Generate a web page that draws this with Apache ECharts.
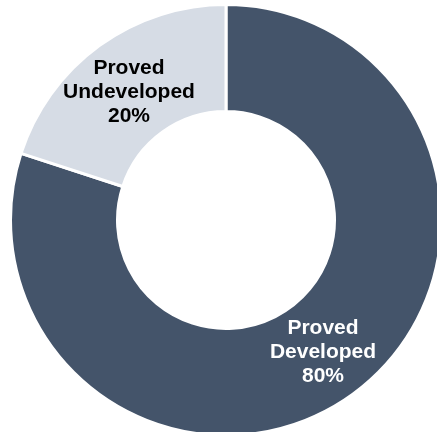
<!DOCTYPE html>
<html>
<head>
<meta charset="utf-8">
<style>
  html, body { margin: 0; padding: 0; background: #ffffff; }
  #chart { width: 437px; height: 432px; }
</style>
<script src="https://cdn.jsdelivr.net/npm/echarts@6/dist/echarts.min.js"></script>
</head>
<body>
<div id="chart"></div>
<script>
// Reserve categories and their shares (%)
const categories = ['Proved\nDeveloped', 'Proved\nUndeveloped'];
const shares = [80, 20];
const sliceColors = ['#44546A', '#D6DCE5'];
const labelColors = ['#ffffff', '#000000'];
const labelOffsets = [[0, -1], [0, 6]];

const chart = echarts.init(document.getElementById('chart'), null, { renderer: 'canvas' });

chart.setOption({
  animation: false,
  backgroundColor: '#ffffff',
  series: [{
    type: 'pie',
    center: [226, 220],
    radius: [108.5, 215.5],
    startAngle: 90,
    clockwise: true,
    avoidLabelOverlap: false,
    itemStyle: { borderColor: '#ffffff', borderWidth: 3 },
    label: {
      show: true,
      position: 'inside',
      formatter: p => p.name + '\n' + p.value + '%',
      fontFamily: '"Liberation Sans", Arial, sans-serif',
      fontWeight: 'bold',
      fontSize: 21,
      lineHeight: 24,
      align: 'center'
    },
    labelLine: { show: false },
    emphasis: { disabled: true },
    data: categories.map((name, i) => ({
      name: name,
      value: shares[i],
      itemStyle: { color: sliceColors[i] },
      label: { color: labelColors[i], offset: labelOffsets[i] }
    }))
  }]
});
</script>
</body>
</html>
